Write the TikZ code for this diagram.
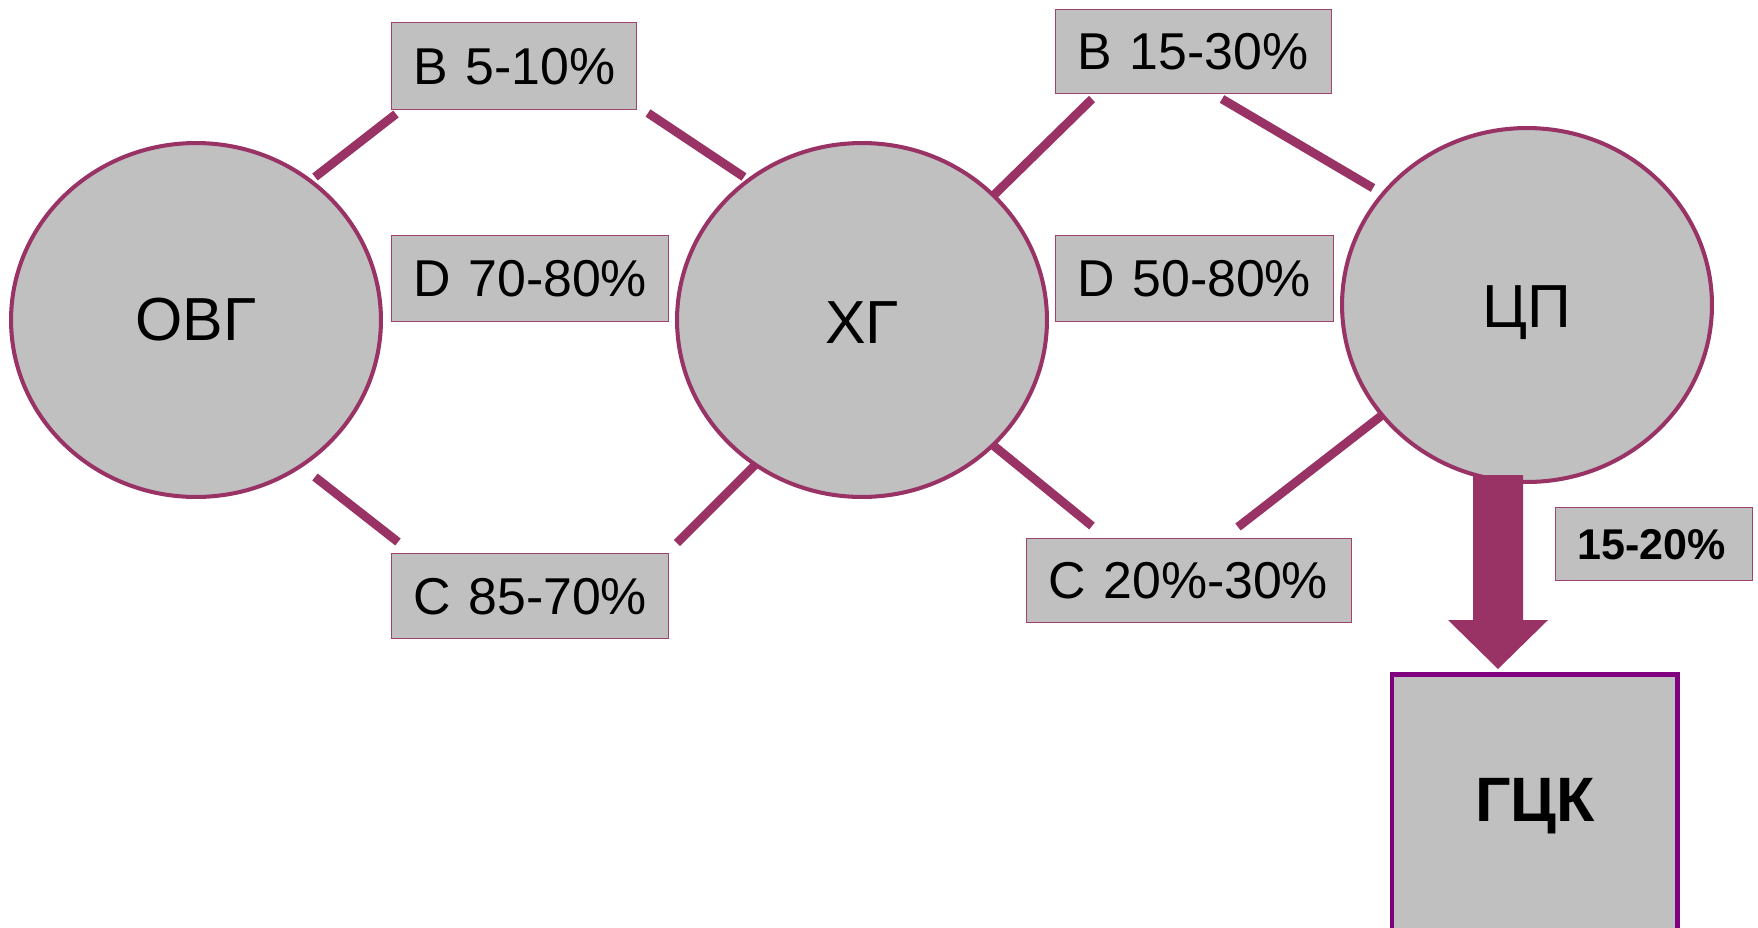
\documentclass[tikz,border=0pt]{standalone}
\usepackage{fontspec}
\setmainfont{Liberation Sans}
\usetikzlibrary{shapes.geometric}
\definecolor{plum}{HTML}{993366}
\definecolor{boxline}{HTML}{A0426E}
\definecolor{gckline}{HTML}{800080}
\definecolor{greyfill}{HTML}{C0C0C0}
\tikzset{
  stage/.style={ellipse, draw=plum, line width=2.3pt, fill=greyfill,
    minimum width=7.4cm, minimum height=7.08cm, inner sep=0pt,
    font=\fontsize{34.6}{40}\selectfont},
  lbl/.style={rectangle, draw=boxline, line width=0.8pt, fill=greyfill,
    anchor=north west, inner xsep=0pt, inner ysep=0pt, align=left,
    font=\fontsize{29.5}{35}\selectfont},
  link/.style={draw=plum, line width=5pt},
}
\newcommand{\inset}{\hspace*{0.44cm}}
\begin{document}
\begin{tikzpicture}[x=0.02cm,y=-0.02cm]
\useasboundingbox (0,0) rectangle (1758,927);
\clip (0,0) rectangle (1758,927);
% stages
\node[stage] (ovg) at (196,320) {ОВГ};
\node[stage] (hg) at (862,320) {\raisebox{-0.06cm}[\height][\depth]{ХГ}};
\node[stage] (cp) at (1527,305) {\raisebox{-0.16cm}[\height][\depth]{ЦП}};
% labels
\node[lbl, text width=4.9cm, minimum height=1.74cm] (b5) at (391,22) {\inset B 5-10\%};
\node[lbl, text width=5.54cm, minimum height=1.72cm] (d70) at (391,235) {\inset D 70-80\%};
\node[lbl, text width=5.54cm, minimum height=1.70cm] (c85) at (391,553) {\inset C 85-70\%};
\node[lbl, text width=5.52cm, minimum height=1.68cm] (b15) at (1055,9) {\inset B 15-30\%};
\node[lbl, text width=5.56cm, minimum height=1.72cm] (d50) at (1055,235) {\inset D 50-80\%};
\node[lbl, text width=6.5cm, minimum height=1.68cm] (c20) at (1026,538) {\inset C 20\%-30\%};
\node[lbl, text width=3.94cm, minimum height=1.46cm,
  font=\fontsize{24.5}{30}\selectfont\bfseries] (p1520) at (1555,507) {\inset 15-20\%};
% connector end points
\coordinate (l1a) at (315,177); \coordinate (l1b) at (396,114);
\coordinate (l2a) at (648,113); \coordinate (l2b) at (744,177);
\coordinate (l3a) at (315,477); \coordinate (l3b) at (398,542);
\coordinate (l4a) at (677,543); \coordinate (l4b) at (756,464);
\coordinate (l5a) at (994,195); \coordinate (l5b) at (1092,99);
\coordinate (l6a) at (1222,99); \coordinate (l6b) at (1373,188);
\coordinate (l7a) at (994,446); \coordinate (l7b) at (1092,526);
\coordinate (l8a) at (1238,527); \coordinate (l8b) at (1381,416);
\draw[link] (l1a) -- (l1b);
\draw[link] (l2a) -- (l2b);
\draw[link] (l3a) -- (l3b);
\draw[link] (l4a) -- (l4b);
\draw[link] (l5a) -- (l5b);
\draw[link] (l6a) -- (l6b);
\draw[link] (l7a) -- (l7b);
\draw[link] (l8a) -- (l8b);
% ГЦК box
\node[rectangle, draw=gckline, line width=2.8pt, fill=greyfill, anchor=north west,
  minimum width=5.72cm, minimum height=5.3cm, inner sep=0pt] (gck) at (1389.5,672) {};
\node[font=\fontsize{35.7}{42}\selectfont\bfseries] (gcktext) at (1535,806) {ГЦК};
% big arrow
\fill[plum] (1473,475) -- (1523,475) -- (1523,620) -- (1548,620) -- (1498,669)
  -- (1448,620) -- (1473,620) -- cycle;
\end{tikzpicture}
\end{document}
